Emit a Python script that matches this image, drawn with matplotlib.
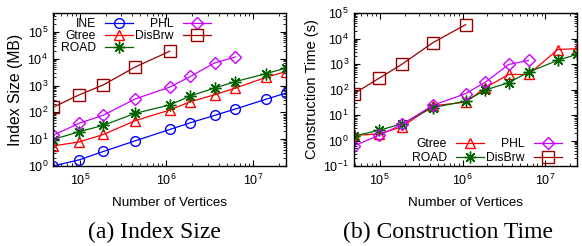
import matplotlib
matplotlib.use("Agg")
import matplotlib.pyplot as plt
from matplotlib.ticker import LogLocator, NullFormatter

plt.rcParams['font.family'] = ['Liberation Sans', 'DejaVu Sans']
plt.rcParams['mathtext.fontset'] = 'custom'
plt.rcParams['mathtext.rm'] = 'Liberation Sans'
plt.rcParams['mathtext.it'] = 'Liberation Sans'

# Number of vertices of the road networks
vertices = [48812, 97975, 187315, 435666, 1089933, 1890815, 3598623, 6262104, 14081816, 23947347]

# (a) Index size (MB)
size_ine = [1.0, 1.7, 3.5, 8.7, 23, 41, 77, 133, 306, 520]
size_gtree = [5.6, 7.9, 15, 49, 122, 250, 450, 800, 2000, 3300]
size_road = [9.7, 19, 33, 92, 188, 410, 800, 1400, 2750, 4460]
size_phl = [14, 39, 79, 316, 870, 2170, 6900, 11500]
size_disbrw = [154, 447, 1060, 4900, 18800]

# (b) Construction time (s)
time_gtree = [1.6, 1.8, 3.5, 23, 32, 118, 390, 390, 3700, 4000]
time_road = [1.5, 2.5, 4.6, 19.5, 35, 96, 186, 480, 1400, 2400]
time_phl = [0.62, 1.6, 4.3, 24, 69, 195, 960, 1380]
time_disbrw = [69, 275, 1000, 6800, 35000]

C_INE = '#0000ff'
C_GTREE = '#ff0000'
C_ROAD = '#006400'
C_PHL = '#cc00ff'
C_DIS = '#990000'

XFS = 9.7
TFS = 9
LFS = 8.7
MS = 7
STAR = (8, 2, 0)

fig = plt.figure(figsize=(5.82, 2.46), dpi=100)
ax1 = fig.add_axes([0.091, 0.325, 0.400, 0.622])
ax2 = fig.add_axes([0.608, 0.325, 0.383, 0.622])

def style(ax, ylim):
    ax.set_xscale('log')
    ax.set_yscale('log')
    ax.set_xlim(vertices[0], vertices[-1])
    ax.set_ylim(*ylim)
    ax.tick_params(which='both', direction='in', top=True, right=True, labelsize=TFS)
    ax.tick_params(axis='x', which='major', pad=5)
    ax.tick_params(axis='y', which='major', pad=3.5)
    ax.tick_params(which='major', length=4, width=0.8)
    ax.tick_params(which='minor', length=2, width=0.6)
    ax.xaxis.set_minor_locator(LogLocator(base=10, subs=range(2, 10), numticks=20))
    ax.yaxis.set_minor_locator(LogLocator(base=10, subs=range(2, 10), numticks=20))
    ax.xaxis.set_minor_formatter(NullFormatter())
    ax.yaxis.set_minor_formatter(NullFormatter())
    ax.yaxis.set_major_locator(LogLocator(base=10, numticks=20))
    for s in ax.spines.values():
        s.set_linewidth(1.0)
    ax.set_xlabel('Number of Vertices', fontsize=XFS, labelpad=6)

lw = 0.9
mew = 1.0
leg_kw = dict(ncol=2, frameon=False, markerfirst=False, fontsize=LFS,
              handlelength=2.3, handletextpad=0.75, columnspacing=0.2,
              borderpad=0, borderaxespad=0)

ax1.plot(vertices, size_ine, color=C_INE, marker='o', ms=MS, mfc='none', mew=mew, lw=lw, label='INE')
ax1.plot(vertices, size_gtree, color=C_GTREE, marker='^', ms=MS + 0.5, mfc='none', mew=mew, lw=lw, label='Gtree')
ax1.plot(vertices, size_road, color=C_ROAD, marker=STAR, ms=MS + 1.5, mew=mew, lw=lw, label='ROAD')
ax1.plot(vertices[:len(size_phl)], size_phl, color=C_PHL, marker='D', ms=MS - 1.0, mfc='none', mew=mew, lw=lw, label='PHL')
ax1.plot(vertices[:len(size_disbrw)], size_disbrw, color=C_DIS, marker='s', ms=MS + 1, mfc='none', mew=mew, lw=lw, label='DisBrw')
style(ax1, (1, 5e5))
ax1.set_ylabel('Index Size (MB)', fontsize=11.3, labelpad=3)
ax1.legend(loc='upper left', labelspacing=0.0, bbox_to_anchor=(0.034, 0.968), **leg_kw)

ax2.plot(vertices, time_gtree, color=C_GTREE, marker='^', ms=MS + 0.5, mfc='none', mew=mew, lw=lw, label='Gtree')
ax2.plot(vertices, time_road, color=C_ROAD, marker=STAR, ms=MS + 1.5, mew=mew, lw=lw, label='ROAD')
ax2.plot(vertices[:len(time_phl)], time_phl, color=C_PHL, marker='D', ms=MS - 1.0, mfc='none', mew=mew, lw=lw, label='PHL')
ax2.plot(vertices[:len(time_disbrw)], time_disbrw, color=C_DIS, marker='s', ms=MS + 1, mfc='none', mew=mew, lw=lw, label='DisBrw')
style(ax2, (0.1, 1e5))
ax2.set_ylabel('Construction Time (s)', fontsize=10.5, labelpad=3)
ax2.legend(loc='lower right', labelspacing=0.15, bbox_to_anchor=(0.933, 0.015), **leg_kw)

fig.text(0.265, 0.057, '(a) Index Size', family='Liberation Serif', fontsize=17, ha='center', va='center')
fig.text(0.77, 0.057, '(b) Construction Time', family='Liberation Serif', fontsize=17, ha='center', va='center')

fig.savefig('out.png', dpi=100)
